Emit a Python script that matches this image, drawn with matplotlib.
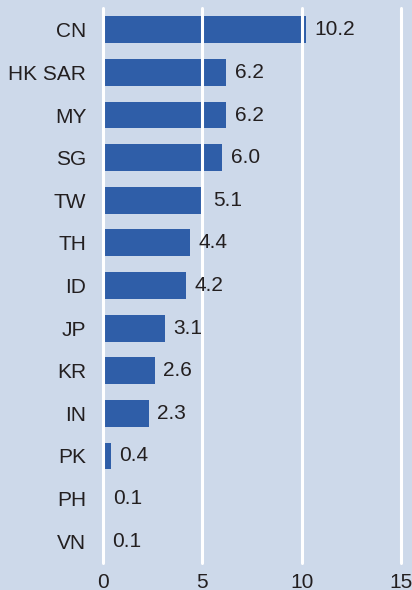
import matplotlib
matplotlib.use("Agg")
import matplotlib.pyplot as plt

categories = ["CN", "HK SAR", "MY", "SG", "TW", "TH", "ID", "JP", "KR", "IN", "PK", "PH", "VN"]
values = [10.2, 6.2, 6.2, 6.0, 5.1, 4.4, 4.2, 3.1, 2.6, 2.3, 0.4, 0.1, 0.06]
xticks = [0, 5, 10, 15]

bg = "#cdd9ea"
bar_color = "#2f5ea8"
text_color = "#231f20"

plt.rcParams['font.family'] = ['Liberation Sans', 'DejaVu Sans']

fig = plt.figure(figsize=(4.12, 5.90), dpi=100, facecolor=bg)
W, H = 412, 590
left_px, top_px, bottom_px = 103, 6, 565
ax = fig.add_axes([left_px / W, (H - bottom_px) / H, 1 - left_px / W, (bottom_px - top_px) / H])
ax.set_facecolor(bg)

y = list(range(len(categories)))
ax.barh(y, values, height=0.63, color=bar_color, zorder=2)

for yi, v in zip(y, values):
    ax.annotate(f"{v:.1f}", xy=(v, yi), xytext=(6, 0), textcoords="offset points",
                va="center", ha="left", fontsize=15, color=text_color, zorder=5)

ax.set_xlim(0, 15.55)
ax.set_ylim(len(categories) - 0.44, -0.56)
ymin, ymax = ax.get_ylim()
ax.vlines(xticks, ymax + 0.05, ymin - 0.05, colors="white", linewidth=2.2,
          capstyle="round", zorder=3, clip_on=False)

ax.set_yticks(y)
ax.set_yticklabels(categories)
ax.set_xticks(xticks)
ax.set_xticklabels([str(t) for t in xticks])
ax.tick_params(axis="y", length=0, pad=12, labelsize=15, labelcolor=text_color)
ax.tick_params(axis="x", length=0, pad=6, labelsize=15, labelcolor=text_color)
for s in ax.spines.values():
    s.set_visible(False)

fig.savefig("out.png", dpi=100, facecolor=bg)
